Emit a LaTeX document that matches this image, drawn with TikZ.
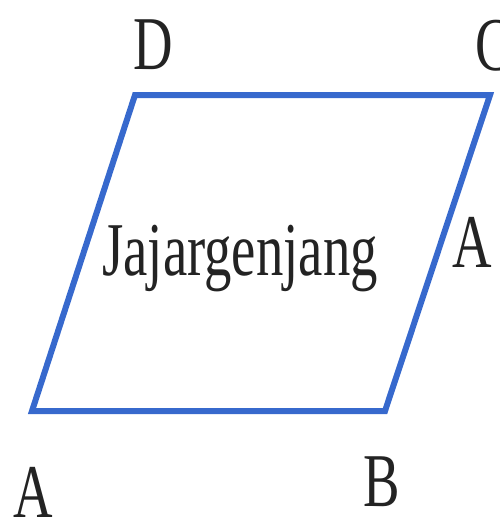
\documentclass[tikz,border=0pt]{standalone}
\usepackage{fontspec}
\setmainfont{Liberation Serif}
\definecolor{sideblue}{RGB}{55,105,205}
\definecolor{labgray}{RGB}{35,35,35}

\begin{document}
\begin{tikzpicture}[
  x=1pt, y=-1pt,
  side/.style={draw=sideblue, line width=6pt, line join=miter},
  lbl/.style={font=\fontsize{76}{80}\selectfont, text=labgray, inner sep=0pt, xscale=0.72}
]
\useasboundingbox (0,0) rectangle (500,522);

\coordinate (A) at (32,411);
\coordinate (B) at (385,411);
\coordinate (C) at (490,95);
\coordinate (D) at (135,95);

\draw[side] (A) -- (B) -- (C) -- (D) -- cycle;

\node[lbl] (labD) at (153,45) {D};
\node[lbl] (labC) at (494,46) {C};
\node[lbl] (labA) at (33,492) {A};
\node[lbl] (labB) at (382,482) {B};
\node[lbl] (labA2) at (472,242) {A};
\node[lbl, anchor=base] (name) at (240,275) {Jajargenjang};
\end{tikzpicture}
\end{document}
